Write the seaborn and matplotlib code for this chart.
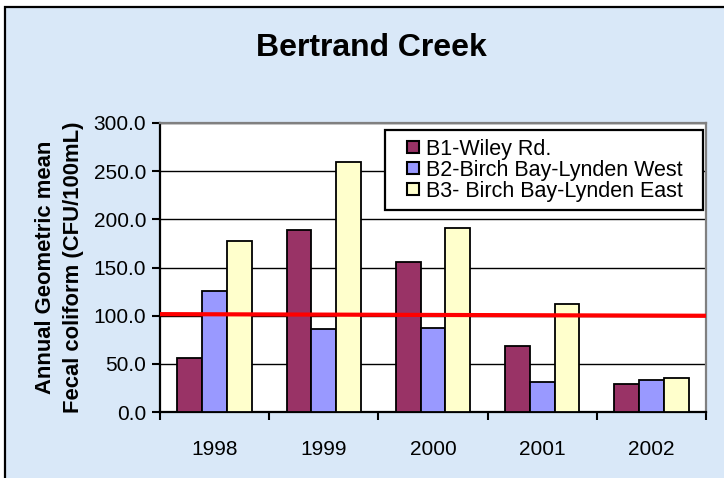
import numpy as np
import pandas as pd
import matplotlib.pyplot as plt
import seaborn as sns
from matplotlib.patches import Rectangle
from matplotlib.legend_handler import HandlerPatch
from matplotlib.ticker import FormatStrFormatter, FixedLocator

# =====================================================
# DATA
# =====================================================

years = ["1998", "1999", "2000", "2001", "2002"]
sites = [
    "B1-Wiley Rd.",
    "B2-Birch Bay-Lynden West",
    "B3- Birch Bay-Lynden East"
]

b1_values = [55.7, 188.5, 155.6, 68.0, 28.7]
b2_values = [125.8, 86.4, 87.0, 31.0, 33.0]
b3_values = [178.0, 259.0, 191.0, 112.0, 35.0]

# hand drawn standard line (start, end)
standard_line = [101.6, 99.9]

y_ticks = [0, 50, 100, 150, 200, 250, 300]

df = pd.DataFrame({
    "Year": years * 3,
    "Site": [sites[0]] * 5 + [sites[1]] * 5 + [sites[2]] * 5,
    "Value": b1_values + b2_values + b3_values
})

colors = ["#993366", "#9999FF", "#FFFFCC"]

# =====================================================
# FIGURE
# =====================================================

plt.rcParams["font.family"] = ["Liberation Sans", "DejaVu Sans"]

fig = plt.figure(figsize=(7.24, 4.78), dpi=100)
fig.patch.set_facecolor("white")

# chart area background + border (cropped at right / bottom)
fig.patches.append(Rectangle(
    (5 / 724, -0.05), 1.1, 1 - 7 / 478 + 0.05,
    transform=fig.transFigure,
    facecolor="#D9E8F8",
    edgecolor="black",
    linewidth=1.6,
    zorder=-5
))

ax = fig.add_axes([160 / 724, 66 / 478, 546 / 724, 289 / 478])
ax.set_facecolor("white")

sns.barplot(
    data=df,
    x="Year",
    y="Value",
    hue="Site",
    palette=colors,
    width=0.68,
    edgecolor="black",
    linewidth=1.3,
    saturation=1,
    ax=ax,
    zorder=3
)

ax.set_xlim(-0.5, 4.5)
ax.set_ylim(0, 300)

# standard line
ax.plot(
    ax.get_xlim(),
    standard_line,
    color="#FF0000",
    linewidth=3,
    zorder=5,
    solid_capstyle="butt"
)

# =====================================================
# AXES STYLE
# =====================================================

ax.yaxis.set_major_locator(FixedLocator(y_ticks))
ax.yaxis.set_major_formatter(FormatStrFormatter("%.1f"))
ax.grid(axis="y", color="black", linewidth=1.0, zorder=0)
ax.set_axisbelow(True)

ax.xaxis.set_minor_locator(FixedLocator(np.arange(-0.5, 5, 1)))
ax.tick_params(axis="x", which="major", length=0, labelsize=15, pad=20)
ax.tick_params(axis="x", which="minor", length=6, width=1.5, direction="out")
ax.tick_params(axis="y", length=6, width=1.5, direction="out", labelsize=15, pad=4)

ax.spines["left"].set_linewidth(1.6)
ax.spines["bottom"].set_linewidth(1.6)
ax.spines["top"].set_color("#808080")
ax.spines["right"].set_color("#808080")
ax.spines["top"].set_linewidth(1.6)
ax.spines["right"].set_linewidth(1.6)

ax.set_xlabel("")
ax.set_ylabel(
    "Annual Geometric mean\nFecal coliform (CFU/100mL)",
    fontsize=15.8,
    fontweight="bold",
    linespacing=1.45,
    labelpad=7
)

# =====================================================
# LEGEND
# =====================================================

# small square drawn at the right end of the handle box
def square_handle(legend, orig_handle, xdescent, ydescent, width, height, fontsize):
    s = height
    return Rectangle((width - s - xdescent, -ydescent), s, s)


handles, labels = ax.get_legend_handles_labels()

leg = ax.legend(
    handles,
    labels,
    loc="upper left",
    bbox_to_anchor=(0.412, 0.5, 0.582, 0.476),
    mode="expand",
    fontsize=15.5,
    frameon=True,
    fancybox=False,
    shadow=False,
    framealpha=1,
    edgecolor="black",
    handlelength=1.2,
    handleheight=0.5,
    handletextpad=0.3,
    labelspacing=0.0,
    borderpad=0.4,
    borderaxespad=0,
    handler_map={h: HandlerPatch(patch_func=square_handle) for h in handles}
)
leg.get_frame().set_linewidth(1.6)
leg.set_zorder(10)
for h in leg.legend_handles:
    h.set_edgecolor("black")
    h.set_linewidth(1.5)

# =====================================================
# TITLE
# =====================================================

fig.text(
    371 / 724,
    1 - 56 / 478,
    "Bertrand Creek",
    ha="center",
    va="baseline",
    fontsize=23,
    fontweight="bold"
)

plt.savefig("out.png", dpi=100)
